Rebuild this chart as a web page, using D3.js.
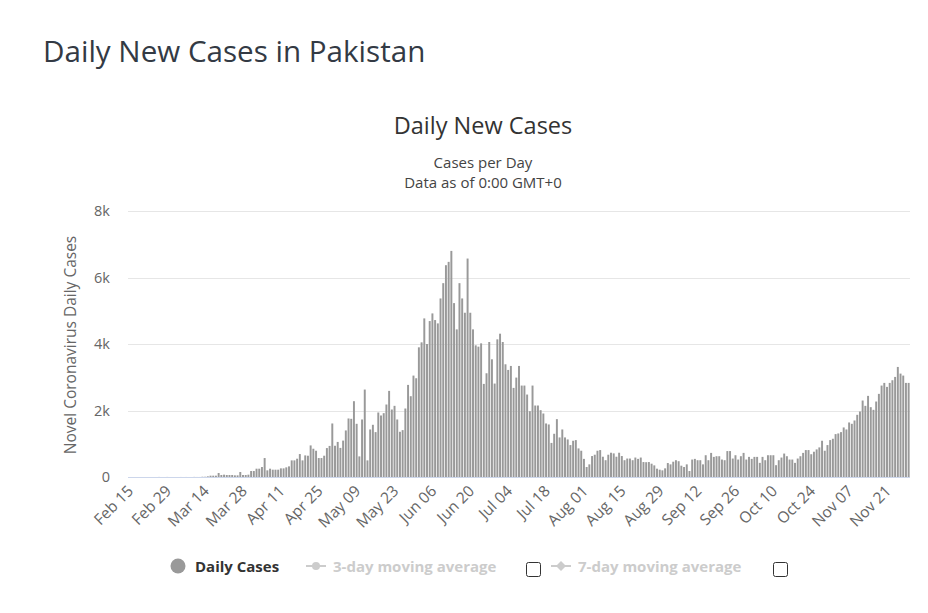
<!DOCTYPE html>
<html>
<head>
<meta charset="utf-8">
<script src="https://cdn.jsdelivr.net/npm/d3@7"></script>
<style>
  html, body { margin: 0; padding: 0; background: #fff; }
  svg { display: block; font-family: "Open Sans", "DejaVu Sans", sans-serif; }
</style>
</head>
<body>
<svg id="chart" width="928" height="613"></svg>
<script>
// ---- Data ----
const startDate = "2020-02-15";
const dailyCases = [
  0,0,0,0,0,0,0,0,0,0, 0,2,0,0,2,0,0,0,0,1,
  0,1,0,0,3,1,1,8,8,20, 40,40,40,120,60,70,60,60,60,50,
  50,150,60,60,70,180,180,250,250,300, 570,200,250,220,220,220,260,260,290,320,
  500,500,550,690,500,650,640,950,850,790, 570,570,640,870,935,1610,940,1055,875,1095,
  1400,1760,1750,2280,1600,620,1730,2630,500,1430, 1570,1350,1940,1850,1920,2180,2590,2030,2140,1730,
  1360,1410,2060,2770,2430,3050,2970,3900,4050,4770, 4000,4690,4920,4720,4620,5370,5830,6370,6470,6800,
  5230,4440,5830,5370,4940,6570,4940,4440,3960,3920, 4020,2800,3120,4060,3540,2810,4140,4310,4060,3390,
  3220,3340,2680,2990,3340,2750,2750,2480,1980,2750, 2150,2150,2010,1910,1610,1580,1025,1300,1740,1190,
  1430,1190,1130,960,1090,1110,860,790,545,300, 380,630,670,790,810,610,505,670,730,710,
  610,730,630,505,555,555,505,585,545,585, 450,445,450,400,350,250,220,200,260,420,
  380,460,505,475,340,300,380,180,525,545, 505,505,380,655,505,725,605,625,625,525,
  505,780,780,555,655,525,625,725,525,605, 545,605,605,425,605,505,655,655,655,355,
  505,585,705,625,525,525,425,555,625,725, 810,810,685,760,830,890,1090,790,960,1110,
  1150,1290,1310,1350,1490,1430,1640,1600,1700,1870, 1970,2300,2140,2440,2100,2020,2270,2500,2750,2830,
  2710,2830,2910,3010,3310,3110,3050,2830,2830
];
const yTicks = [0, 2000, 4000, 6000, 8000];
const yTickLabels = ["0", "2k", "4k", "6k", "8k"];
const xLabelEvery = 14;
const legendItems = ["Daily Cases", "3-day moving average", "7-day moving average"];

// build categories from start date
const parse = d3.utcParse("%Y-%m-%d");
const fmt = d3.utcFormat("%b %d");
const categories = dailyCases.map((v, i) => fmt(d3.utcDay.offset(parse(startDate), i)));

// ---- Layout ----
const svg = d3.select("#chart");
const plot = { left: 128, right: 910, top: 211, bottom: 477 };

const x = d3.scaleBand().domain(categories).range([plot.left, plot.right]).paddingInner(0.28).paddingOuter(0.14);
const y = d3.scaleLinear().domain([0, 8000]).range([plot.bottom, plot.top]);

// Page title
svg.append("text").attr("x", 43).attr("y", 62)
  .attr("font-size", 29.6).attr("fill", "#333a44")
  .text("Daily New Cases in Pakistan");

// Chart title & subtitles
const cx = 483;
svg.append("text").attr("x", cx).attr("y", 134).attr("text-anchor", "middle")
  .attr("font-size", 23.5).attr("fill", "#333").text("Daily New Cases");
svg.append("text").attr("x", cx).attr("y", 168).attr("text-anchor", "middle")
  .attr("font-size", 15).attr("fill", "#444").text("Cases per Day");
svg.append("text").attr("x", cx).attr("y", 188).attr("text-anchor", "middle")
  .attr("font-size", 15).attr("fill", "#444").text("Data as of 0:00 GMT+0");

// Gridlines
svg.append("g").selectAll("line").data(yTicks).join("line")
  .attr("x1", plot.left).attr("x2", plot.right)
  .attr("y1", d => Math.round(y(d)) + 0.5).attr("y2", d => Math.round(y(d)) + 0.5)
  .attr("stroke", "#e6e6e6").attr("stroke-width", 1);

// Y labels
svg.append("g").selectAll("text").data(yTicks).join("text")
  .attr("x", 110).attr("y", d => y(d) + 5).attr("text-anchor", "end")
  .attr("font-size", 14.5).attr("fill", "#666")
  .text((d, i) => yTickLabels[i]);

// Y axis title
svg.append("text")
  .attr("transform", `translate(76,${(plot.top + plot.bottom) / 2 + 1}) rotate(-90)`)
  .attr("text-anchor", "middle").attr("font-size", 15.5).attr("fill", "#666")
  .text("Novel Coronavirus Daily Cases");

// Bars
svg.append("g").selectAll("rect").data(dailyCases).join("rect")
  .attr("x", (d, i) => x(categories[i]))
  .attr("width", x.bandwidth())
  .attr("y", d => y(d))
  .attr("height", d => plot.bottom - y(d))
  .attr("fill", "#999");

// X axis line
svg.append("line").attr("x1", plot.left).attr("x2", plot.right)
  .attr("y1", plot.bottom + 0.5).attr("y2", plot.bottom + 0.5)
  .attr("stroke", "#ccd6eb").attr("stroke-width", 1);

// X labels (every 14 days), rotated -45
const labelIdx = d3.range(0, categories.length, xLabelEvery);
svg.append("g").selectAll("text").data(labelIdx).join("text")
  .attr("transform", i => `translate(${x(categories[i]) + x.bandwidth() / 2 + 5},${plot.bottom + 15}) rotate(-45)`)
  .attr("text-anchor", "end").attr("font-size", 15.5).attr("fill", "#666")
  .text(i => categories[i]);

// Legend
const ly = 567;
const lg = svg.append("g");
lg.append("circle").attr("cx", 178).attr("cy", ly - 1).attr("r", 7.5).attr("fill", "#999");
lg.append("text").attr("x", 195).attr("y", ly + 5).attr("font-size", 15).attr("font-weight", "bold")
  .attr("fill", "#333").text(legendItems[0]);

lg.append("line").attr("x1", 306).attr("x2", 326).attr("y1", ly - 1).attr("y2", ly - 1)
  .attr("stroke", "#ccc").attr("stroke-width", 2);
lg.append("circle").attr("cx", 316).attr("cy", ly - 1).attr("r", 4).attr("fill", "#ccc");
lg.append("text").attr("x", 333).attr("y", ly + 5).attr("font-size", 15).attr("font-weight", "bold")
  .attr("fill", "#ccc").text(legendItems[1]);
lg.append("rect").attr("x", 526.5).attr("y", 562.5).attr("width", 14).attr("height", 14)
  .attr("rx", 2).attr("fill", "#fff").attr("stroke", "#333");

lg.append("line").attr("x1", 551).attr("x2", 571).attr("y1", ly - 1).attr("y2", ly - 1)
  .attr("stroke", "#ccc").attr("stroke-width", 2);
lg.append("path").attr("d", `M561,${ly - 6} L566,${ly - 1} L561,${ly + 4} L556,${ly - 1} Z`).attr("fill", "#ccc");
lg.append("text").attr("x", 578).attr("y", ly + 5).attr("font-size", 15).attr("font-weight", "bold")
  .attr("fill", "#ccc").text(legendItems[2]);
lg.append("rect").attr("x", 773.5).attr("y", 562.5).attr("width", 14).attr("height", 14)
  .attr("rx", 2).attr("fill", "#fff").attr("stroke", "#333");
</script>
</body>
</html>
